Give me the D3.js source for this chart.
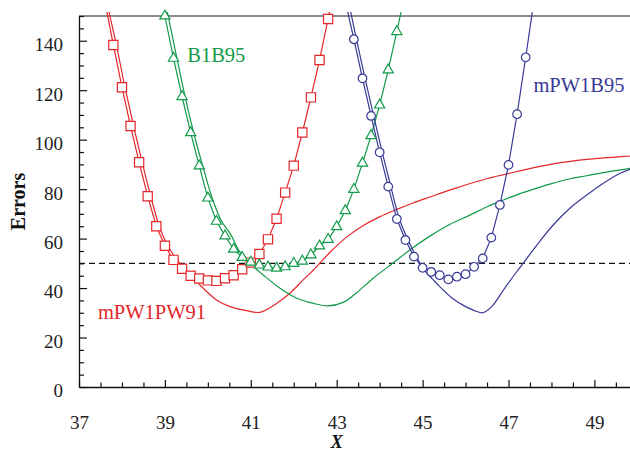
<!DOCTYPE html>
<html>
<head>
<meta charset="utf-8">
<script src="https://cdn.jsdelivr.net/npm/d3@7"></script>
<style>
  html, body { margin: 0; padding: 0; background: #fff; }
  #chart { width: 630px; height: 452px; overflow: hidden; }
  text { font-family: "Liberation Serif", "Times New Roman", serif; }
</style>
</head>
<body>
<div id="chart"></div>
<script>
// Marker series (values past 150 are off the top of the plot and get clipped)
const redMarkX = [37.6, 37.8, 38.0, 38.2, 38.4, 38.6, 38.8, 39.0, 39.2, 39.4, 39.6, 39.8, 40.0, 40.2, 40.4, 40.6, 40.8, 41.0, 41.2, 41.4, 41.6, 41.8, 42.0, 42.2, 42.4, 42.6, 42.8, 43.0];
const redMarkY = [156, 138.3, 121.2, 105.5, 90.9, 77.1, 65.0, 57.1, 51.4, 47.8, 45.0, 43.9, 43.1, 42.9, 44.0, 45.2, 47.6, 50.3, 53.8, 59.7, 68.0, 78.6, 89.5, 102.9, 117.1, 132.2, 148.8, 166];

const greenMarkX = [38.8, 39.0, 39.2, 39.4, 39.6, 39.8, 40.0, 40.2, 40.4, 40.6, 40.8, 41.0, 41.2, 41.4, 41.6, 41.8, 42.0, 42.2, 42.4, 42.6, 42.8, 43.0, 43.2, 43.4, 43.6, 43.8, 44.0, 44.2, 44.4, 44.6];
const greenMarkY = [167, 150, 132.9, 117.4, 102.8, 89.4, 76.4, 67.0, 61.1, 55.7, 52.4, 50.5, 49.3, 48.5, 48.0, 48.6, 50.0, 50.9, 53.4, 57.0, 59.7, 64.8, 71.3, 79.9, 90.5, 101.6, 114.0, 128.2, 143.7, 160];

const blueMarkX = [43.2, 43.4, 43.6, 43.8, 44.0, 44.2, 44.4, 44.6, 44.8, 45.0, 45.2, 45.4, 45.6, 45.8, 46.0, 46.2, 46.4, 46.6, 46.8, 47.0, 47.2, 47.4, 47.6];
const blueMarkY = [156, 140.6, 124.8, 109.6, 94.9, 81.0, 67.9, 59.4, 52.7, 48.2, 46.5, 45.2, 43.5, 44.6, 45.6, 48.6, 52.0, 60.4, 73.6, 89.8, 110.3, 133.3, 157];

// Plain line series
const redLineX = [37.68, 37.87, 38.07, 38.27, 38.47, 38.67, 38.87, 39.08, 39.35, 39.7, 40.2, 40.52, 40.9, 41.21, 41.6, 41.91, 42.22, 42.53, 42.84, 43.23, 43.62, 44.01, 44.4, 44.78, 45.17, 45.7, 46.49, 47.27, 48.04, 48.82, 49.83, 50.0];
const redLineY = [153, 138.3, 121.2, 105.5, 90.9, 77.1, 65.0, 56.7, 50.0, 43.3, 35.2, 32.5, 30.9, 30.2, 33.8, 37.9, 43.3, 48.6, 54.4, 60.6, 65.3, 68.9, 71.8, 74.4, 76.8, 80.0, 84.2, 87.4, 90.2, 92.0, 93.4, 93.6];

const greenLineX = [39.04, 39.28, 39.47, 39.67, 39.88, 40.1, 40.32, 40.52, 40.75, 40.98, 41.29, 41.68, 42.07, 42.46, 42.8, 43.15, 43.47, 43.85, 44.32, 44.78, 45.17, 45.64, 46.1, 46.49, 46.88, 47.27, 47.66, 48.04, 48.43, 48.82, 49.21, 49.83, 50.0];
const greenLineY = [153, 132.9, 117.4, 102.8, 89.4, 76.4, 67.0, 62.0, 54.5, 50.0, 45.3, 39.9, 35.9, 33.8, 32.8, 34.2, 38.2, 44.0, 50.2, 56.4, 61.0, 65.8, 69.5, 72.8, 75.6, 78.2, 80.4, 82.4, 84.2, 85.4, 86.7, 88.4, 88.8];

const blueLineX = [43.31, 43.46, 43.66, 43.86, 44.06, 44.26, 44.46, 44.66, 44.86, 45.05, 45.25, 45.4, 45.56, 45.7, 45.95, 46.18, 46.39, 46.61, 46.88, 47.19, 47.34, 47.66, 48.04, 48.43, 48.82, 49.21, 49.6, 49.83, 50.0];
const blueLineY = [153, 140.6, 124.8, 109.6, 94.9, 81.0, 67.9, 59.4, 52.5, 47.0, 43.3, 40.6, 37.9, 35.8, 33.0, 31.1, 30.0, 32.5, 39.2, 46.6, 50.0, 57.4, 65.5, 72.3, 77.6, 82.4, 86.4, 88.0, 88.8];

const xMajorTicks = [37, 39, 41, 43, 45, 47, 49];
const yMajorTicks = [0, 20, 40, 60, 80, 100, 120, 140];
const refLevel = 50;

const colors = { red: '#e4262b', green: '#129a4a', blue: '#393a96' };

const width = 630, height = 452;
const margin = { top: 16, left: 79, bottom: 65 };

const x = d3.scaleLinear().domain([37, 50]).range([margin.left, margin.left + 13 * 42.95]);
const y = d3.scaleLinear().domain([0, 150]).range([height - margin.bottom, margin.top]);

const svg = d3.select('#chart').append('svg')
  .attr('width', width)
  .attr('height', height);

svg.append('defs').append('clipPath').attr('id', 'plot-clip')
  .append('rect')
  .attr('x', x(37)).attr('y', y(150) - 4)
  .attr('width', x(50) - x(37)).attr('height', y(0) - y(150) + 4);

const zip = (xs, ys) => xs.map((v, i) => [v, ys[i]]);

const series = [
  { name: 'mPW1PW91', color: colors.red, mark: zip(redMarkX, redMarkY), line: zip(redLineX, redLineY), symbol: d3.symbolSquare, size: 85, label: [37.44, 27.4] },
  { name: 'B1B95', color: colors.green, mark: zip(greenMarkX, greenMarkY), line: zip(greenLineX, greenLineY), symbol: d3.symbolTriangle, size: 45, label: [39.52, 131.2] },
  { name: 'mPW1B95', color: colors.blue, mark: zip(blueMarkX, blueMarkY), line: zip(blueLineX, blueLineY), symbol: d3.symbolCircle, size: 58, label: [47.58, 119.4] }
];

// top frame line
svg.append('line')
  .attr('x1', x(37)).attr('x2', width)
  .attr('y1', y(150)).attr('y2', y(150))
  .attr('stroke', '#666').attr('stroke-width', 1.5);

// dashed reference
svg.append('line')
  .attr('x1', x(37)).attr('x2', width)
  .attr('y1', y(refLevel)).attr('y2', y(refLevel))
  .attr('stroke', '#111').attr('stroke-width', 1.1)
  .attr('stroke-dasharray', '6,4');

const plot = svg.append('g').attr('clip-path', 'url(#plot-clip)');

const lineGen = d3.line().x(d => x(d[0])).y(d => y(d[1]));
const smoothGen = d3.line().x(d => x(d[0])).y(d => y(d[1])).curve(d3.curveCatmullRom.alpha(0.5));

series.forEach(s => {
  plot.append('path')
    .attr('d', smoothGen(s.line))
    .attr('fill', 'none')
    .attr('stroke', s.color)
    .attr('stroke-width', 1.2);

  plot.append('path')
    .attr('d', lineGen(s.mark))
    .attr('fill', 'none')
    .attr('stroke', s.color)
    .attr('stroke-width', 1.2);
});

series.forEach(s => {
  svg.append('g').selectAll('path')
    .data(s.mark.filter(d => d[1] <= 150.5))
    .join('path')
    .attr('transform', d => `translate(${x(d[0])},${y(d[1])})`)
    .attr('d', d3.symbol().type(s.symbol).size(s.size))
    .attr('fill', '#fff')
    .attr('stroke', s.color)
    .attr('stroke-width', 1.2);

  svg.append('text')
    .attr('x', x(s.label[0]))
    .attr('y', y(s.label[1]))
    .attr('fill', s.color)
    .style('font-size', '20.5px')
    .text(s.name);
});

// axes
const yMinor = d3.range(0, 151, 5).filter(v => v % 20 !== 0);
const xMinor = d3.range(37, 50.01, 0.5).filter(v => !xMajorTicks.includes(v));

const gy = svg.append('g').attr('transform', `translate(${x(37)},0)`);
gy.call(d3.axisLeft(y).tickValues(yMinor).tickSizeInner(-5).tickSizeOuter(0).tickFormat(''));
gy.call(g => g.select('.domain').remove());
const gyMajor = svg.append('g').attr('transform', `translate(${x(37)},0)`);
gyMajor.call(d3.axisLeft(y).tickValues(yMajorTicks).tickSizeInner(-8).tickSizeOuter(0).tickPadding(16));

const gx = svg.append('g').attr('transform', `translate(0,${y(0)})`);
gx.call(d3.axisBottom(x).tickValues(xMinor).tickSizeInner(-4.5).tickSizeOuter(0).tickFormat(''));
gx.call(g => g.select('.domain').remove());
const gxMajor = svg.append('g').attr('transform', `translate(0,${y(0)})`);
gxMajor.call(d3.axisBottom(x).tickValues(xMajorTicks).tickSizeInner(-7).tickSizeOuter(0).tickPadding(28.5).tickFormat(d3.format('d')));

[gy, gyMajor, gx, gxMajor].forEach(g => {
  g.selectAll('line').attr('stroke', '#111').attr('stroke-width', 1.2);
  g.selectAll('.domain').attr('stroke', '#111').attr('stroke-width', 1.3);
  g.selectAll('text')
    .attr('fill', '#222')
    .style('font-family', '"Liberation Serif", "Times New Roman", serif')
    .style('font-size', '19px');
});
gyMajor.selectAll('text').attr('dy', '0.52em');

svg.append('text')
  .attr('transform', `translate(25,${(y(0) + y(150)) / 2}) rotate(-90)`)
  .attr('text-anchor', 'middle')
  .style('font-size', '20px')
  .style('font-weight', 'bold')
  .attr('fill', '#111')
  .text('Errors');

svg.append('text')
  .attr('x', x(43))
  .attr('y', 448)
  .attr('text-anchor', 'middle')
  .style('font-size', '18px')
  .style('font-weight', 'bold')
  .style('font-style', 'italic')
  .attr('fill', '#111')
  .text('X');
</script>
</body>
</html>
